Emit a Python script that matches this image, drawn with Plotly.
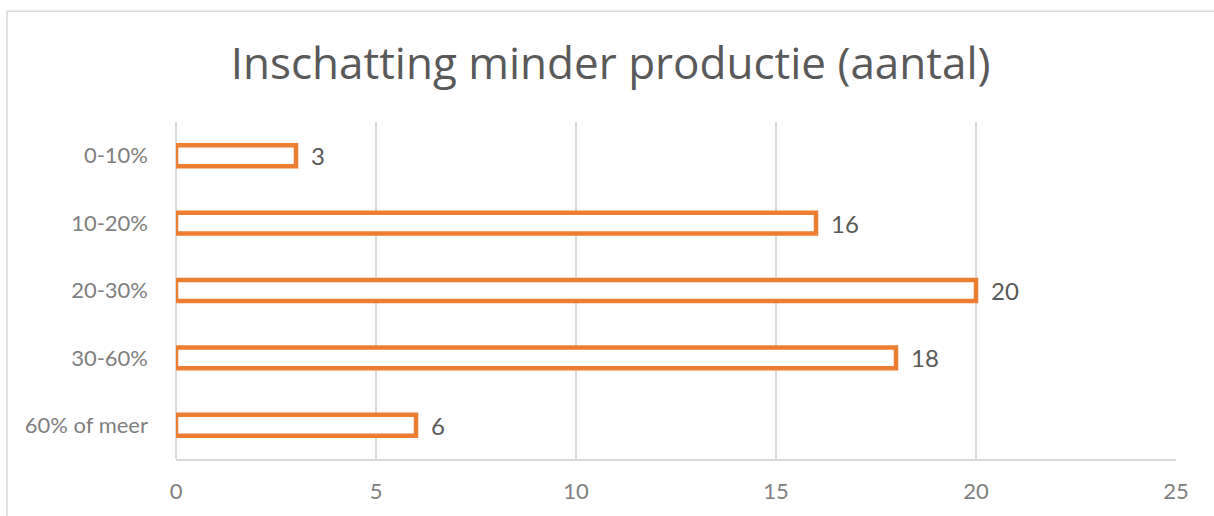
import plotly.graph_objects as go

categories = ["0-10%", "10-20%", "20-30%", "30-60%", "60% of meer"]
values = [3, 16, 20, 18, 6]
x_ticks = [0, 5, 10, 15, 20, 25]
title = "Inschatting minder productie (aantal)"

fig = go.Figure(go.Bar(
    y=categories, x=values, orientation="h",
    width=0.31,
    marker=dict(color="white", line=dict(color="#ED7D31", width=4.5)),
    hoverinfo="x+y",
))

annotations = [
    dict(x=v, y=c, xref="x", yref="y", text=str(v), showarrow=False, xanchor="left", xshift=13,
         font=dict(family="Lato, sans-serif", size=24, color="#595959"))
    for c, v in zip(categories, values)
]

fig.update_layout(
    width=1214, height=516,
    margin=dict(l=176, r=38, t=122, b=54),
    paper_bgcolor="white", plot_bgcolor="white",
    title=dict(text=title, x=0.503, xref="container", xanchor="center", y=0.876, yref="container", yanchor="middle",
               font=dict(family="Open Sans, sans-serif", size=44, color="#595959")),
    showlegend=False,
    annotations=annotations,
    xaxis=dict(range=[0, 25], tickvals=x_ticks, showgrid=True, gridcolor="#D9D9D9", gridwidth=1.5,
               zeroline=True, zerolinecolor="#D9D9D9", zerolinewidth=1.5,
               showline=True, linecolor="#D9D9D9", linewidth=1.5,
               tickfont=dict(family="Lato, sans-serif", size=22, color="#7F7F7F"), ticks="", ticklen=0,
               ticklabelstandoff=12),
    yaxis=dict(categoryorder="array", categoryarray=categories[::-1], showgrid=False, zeroline=False,
               tickfont=dict(family="Lato, sans-serif", size=22, color="#7F7F7F"), ticks="", ticklabelstandoff=27),
    shapes=[dict(type="rect", xref="paper", yref="paper", x0=-0.169, x1=1.2, y0=-0.5, y1=1.329,
                 line=dict(color="#D9D9D9", width=1.5), fillcolor="rgba(0,0,0,0)", layer="below")],
)

fig.write_html("out.html")
